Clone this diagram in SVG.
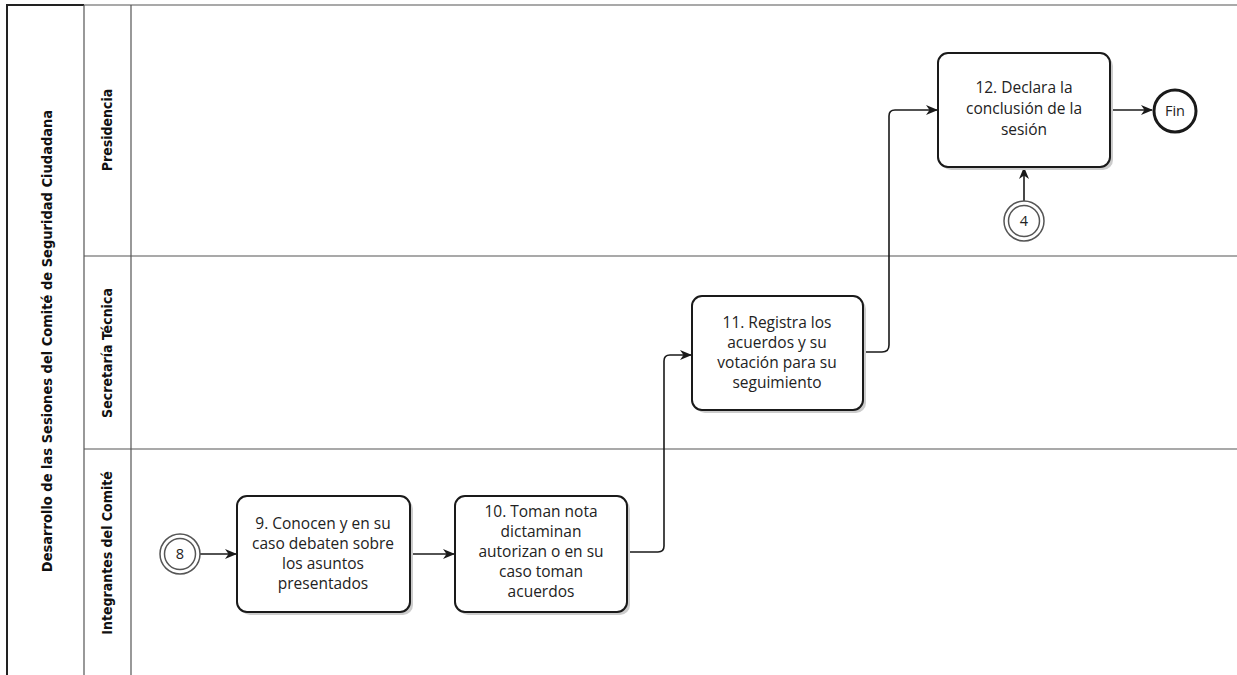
<svg xmlns="http://www.w3.org/2000/svg" width="1237" height="675" viewBox="0 0 1237 675">
<style>
.lane{stroke:#555;stroke-width:1.2;fill:none}
.frame{stroke:#222;stroke-width:2;fill:none}
.hdr{font-family:'Liberation Sans Narrow','DejaVu Sans Condensed',sans-serif;font-weight:bold;font-size:14px;fill:#111;text-anchor:middle}
.box{fill:#fff;stroke:#1a1a1a;stroke-width:2}
.shadow{fill:#ccc;stroke:none}
.t{font-family:'Open Sans','Noto Sans',sans-serif;font-size:15.5px;fill:#222;text-anchor:middle}
.con{stroke:#1a1a1a;stroke-width:1.6;fill:none}
.ev{fill:#fff;stroke:#555;stroke-width:1.5}
</style>
<defs>
<marker id="arr" viewBox="0 0 12 10" refX="11" refY="5" markerWidth="12" markerHeight="10" markerUnits="userSpaceOnUse" orient="auto">
<path d="M0,0 L12,5 L0,10 L3.5,5 z" fill="#1a1a1a"/>
</marker>
</defs>
<rect width="1237" height="675" fill="#fff"/>
<g id="pool">
<path class="frame" d="M7,675 L7,5 L84,5"/>
<path class="lane" d="M84,5 L1237,5"/>
<path class="lane" d="M84,5 L84,675 M131,5 L131,675 M84,256 L1237,256 M84,449 L1237,449"/>
<text class="hdr" transform="translate(52,341) rotate(-90)" style="font-size:14.5px">Desarrollo de las Sesiones del Comité de Seguridad Ciudadana</text>
<text class="hdr" transform="translate(112,130) rotate(-90)">Presidencia</text>
<text class="hdr" transform="translate(112,353) rotate(-90)">Secretaría Técnica</text>
<text class="hdr" transform="translate(112,553) rotate(-90)">Integrantes del Comité</text>
</g>
<g id="connectors">
<path class="con" d="M200,554 L236,554" marker-end="url(#arr)"/>
<path class="con" d="M410,554 L454,554" marker-end="url(#arr)"/>
<path class="con" d="M627,552 L658,552 Q664,552 664,546 L664,361 Q664,355 670,355 L691,355" marker-end="url(#arr)"/>
<path class="con" d="M863,352 L882,352 Q889,352 889,345 L889,116 Q889,110 895,110 L937,110" marker-end="url(#arr)"/>
<path class="con" d="M1110,110 L1152,110" marker-end="url(#arr)"/>
<path class="con" d="M1024,201 L1024,168" marker-end="url(#arr)"/>
</g>
<g id="ev8">
<circle class="ev" cx="180" cy="554" r="20"/>
<circle class="ev" cx="180" cy="554" r="15.5"/>
<text class="t" x="180" y="559" style="font-size:14.5px">8</text>
</g>
<g id="task9">
<rect class="shadow" x="240" y="499" width="173" height="116" rx="10"/>
<rect class="box" x="237" y="496" width="173" height="116" rx="10"/>
<text class="t" x="323" y="529">9. Conocen y en su</text>
<text class="t" x="323" y="549">caso debaten sobre</text>
<text class="t" x="323" y="569">los asuntos</text>
<text class="t" x="323" y="589">presentados</text>
</g>
<g id="task10">
<rect class="shadow" x="458" y="499" width="172" height="116" rx="10"/>
<rect class="box" x="455" y="496" width="172" height="116" rx="10"/>
<text class="t" x="541" y="517">10. Toman nota</text>
<text class="t" x="541" y="537">dictaminan</text>
<text class="t" x="541" y="557">autorizan o en su</text>
<text class="t" x="541" y="577">caso toman</text>
<text class="t" x="541" y="597">acuerdos</text>
</g>
<g id="task11">
<rect class="shadow" x="695" y="299" width="171" height="114" rx="10"/>
<rect class="box" x="692" y="296" width="171" height="114" rx="10"/>
<text class="t" x="777" y="328">11. Registra los</text>
<text class="t" x="777" y="348">acuerdos y su</text>
<text class="t" x="777" y="368">votación para su</text>
<text class="t" x="777" y="388">seguimiento</text>
</g>
<g id="task12">
<rect class="shadow" x="941" y="56" width="172" height="114" rx="10"/>
<rect class="box" x="938" y="53" width="172" height="114" rx="10"/>
<text class="t" x="1024" y="93">12. Declara la</text>
<text class="t" x="1024" y="114">conclusión de la</text>
<text class="t" x="1024" y="135">sesión</text>
</g>
<g id="ev4">
<circle class="ev" cx="1024" cy="221" r="20"/>
<circle class="ev" cx="1024" cy="221" r="15.5"/>
<text class="t" x="1024" y="226" style="font-size:14.5px">4</text>
</g>
<g id="fin">
<circle cx="1175" cy="111" r="21" fill="#fff" stroke="#1a1a1a" stroke-width="3"/>
<text class="t" x="1175" y="116" style="font-size:14.5px">Fin</text>
</g>
</svg>
